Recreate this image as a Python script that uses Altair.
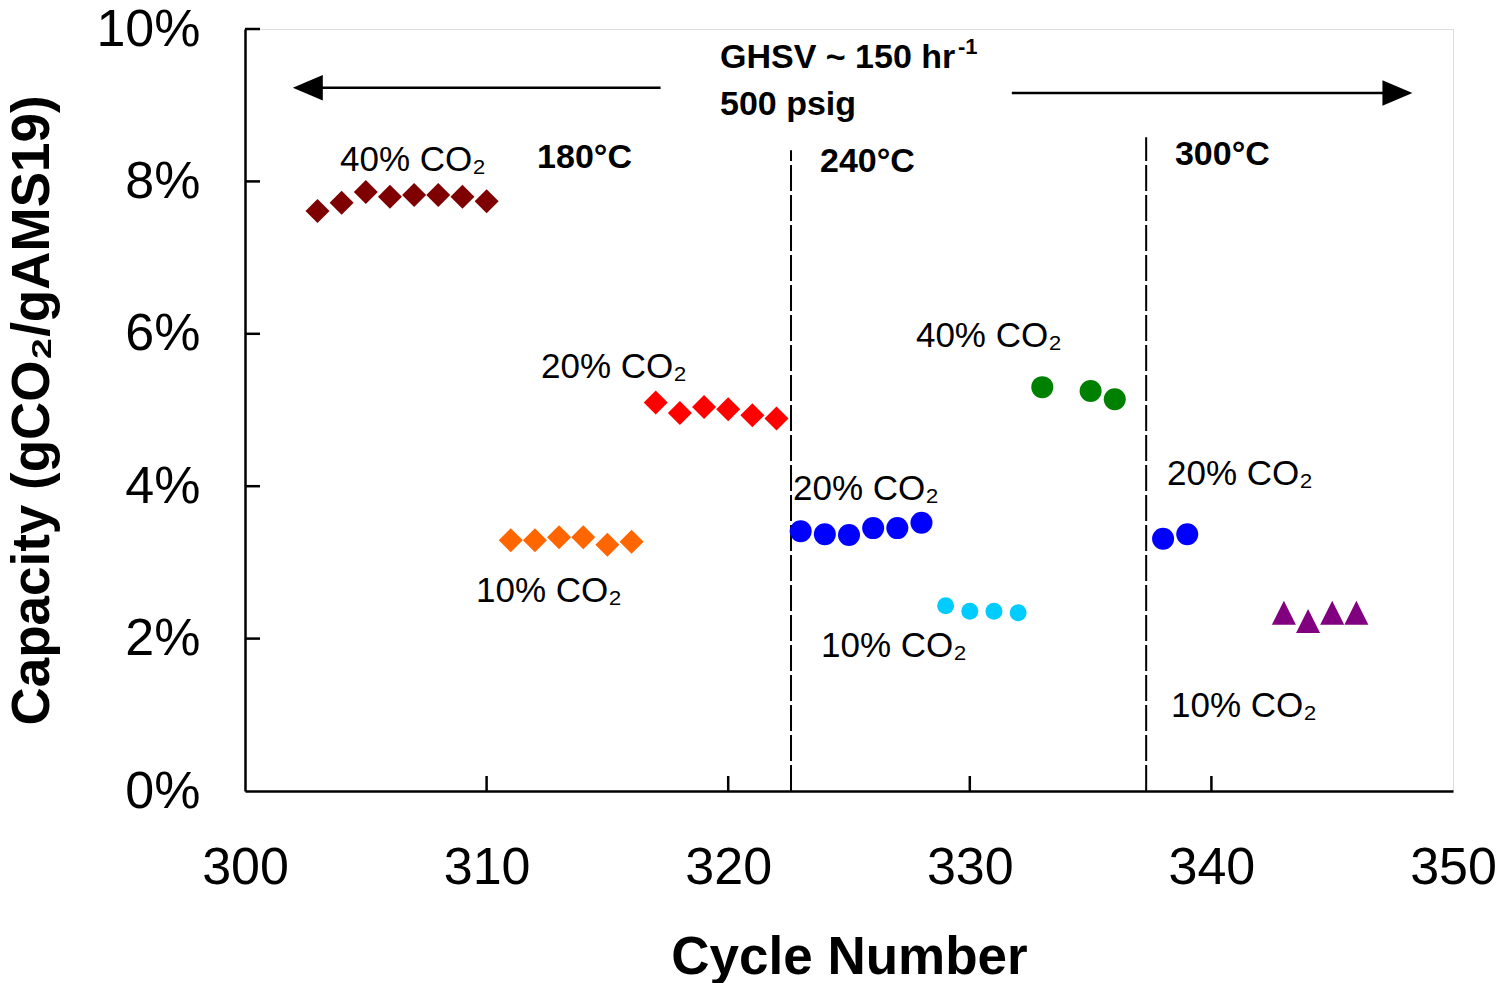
import altair as alt
import pandas as pd

# ---------------- data ----------------
c180_40 = [303, 304, 305, 306, 307, 308, 309, 310]
v180_40 = [7.61, 7.72, 7.86, 7.80, 7.82, 7.82, 7.80, 7.74]
c180_20 = [317, 318, 319, 320, 321, 322]
v180_20 = [5.10, 4.96, 5.04, 5.01, 4.93, 4.89]
c180_10 = [311, 312, 313, 314, 315, 316]
v180_10 = [3.29, 3.29, 3.33, 3.33, 3.23, 3.27]
c240_20 = [323, 324, 325, 326, 327, 328]
v240_20 = [3.41, 3.37, 3.36, 3.45, 3.45, 3.52]
c240_10 = [329, 330, 331, 332]
v240_10 = [2.43, 2.36, 2.36, 2.34]
c240_40 = [333, 335, 336]
v240_40 = [5.30, 5.25, 5.14]
c300_20 = [338, 339]
v300_20 = [3.31, 3.37]
c300_10 = [343, 344, 345, 346]
v300_10 = [2.34, 2.23, 2.34, 2.34]

x_ticks = [300, 310, 320, 330, 340, 350]
y_ticks = [0, 2, 4, 6, 8, 10]

# temperature boundaries (dashed lines)
boundary_x = [322.6, 337.3]
boundary_top = [8.41, 8.58]

# annotations
co2_text = ["40% CO₂", "20% CO₂", "10% CO₂", "20% CO₂", "10% CO₂", "40% CO₂", "20% CO₂", "10% CO₂"]
co2_x = [303.93, 312.25, 309.56, 322.68, 323.84, 327.77, 338.16, 338.33]
co2_y = [8.28, 5.56, 2.62, 3.96, 1.90, 5.97, 4.16, 1.12]

bold_text = ["180°C", "240°C", "300°C", "GHSV ~ 150 hr", "500 psig"]
bold_x = [312.09, 323.80, 338.49, 319.66, 319.66]
bold_y = [8.31, 8.25, 8.35, 9.62, 9.00]
sup_text = ["-1"]
sup_x = [329.51]
sup_y = [9.76]

# arrows
arrow_start = [317.2, 331.74]
arrow_end = [302.6, 347.7]
arrow_y = [9.23, 9.16]

FONT = "Liberation Sans"
xs = alt.Scale(domain=[300, 350], nice=False, zero=False)
ys = alt.Scale(domain=[0, 10], nice=False)

x_axis = alt.Axis(values=x_ticks, title="Cycle Number", ticks=False, grid=False,
                  labelFontSize=52, labelPadding=51, titleFontSize=53,
                  titleFontWeight="bold", titlePadding=38, labelFlush=False,
                  domainColor="black", domainWidth=2.5, labelColor="black",
                  titleColor="black", labelFont=FONT, titleFont=FONT)
y_axis = alt.Axis(values=y_ticks, title="Capacity (gCO₂/gAMS19)", ticks=False,
                  grid=False, labelExpr="datum.value + '%'", labelFontSize=52,
                  labelPadding=45, titleFontSize=53, titleFontWeight="bold",
                  titlePadding=36, labelFlush=False, domainColor="black",
                  domainWidth=2.5, labelColor="black", titleColor="black",
                  labelFont=FONT, titleFont=FONT)

X = lambda f: alt.X(f, type="quantitative", scale=xs, axis=x_axis)
Y = lambda f: alt.Y(f, type="quantitative", scale=ys, axis=y_axis)

layers = []

# inward ticks
xt = alt.Chart(pd.DataFrame({"x": x_ticks[1:-1]})).mark_rule(color="black", strokeWidth=2.5).encode(
    x=X("x"), y=alt.value(762), y2=alt.value(747))
yt = alt.Chart(pd.DataFrame({"y": y_ticks[1:]})).mark_rule(color="black", strokeWidth=2.5).encode(
    y=Y("y"), x=alt.value(0), x2=alt.value(15))

# dashed boundaries
bdf = pd.DataFrame({"x": boundary_x, "top": boundary_top, "bot": [0, 0]})
layers.append(alt.Chart(bdf).mark_rule(color="black", strokeWidth=2, strokeDash=[26, 4]).encode(
    x=X("x"), y=Y("bot"), y2="top"))
layers += [xt, yt]

diamond = "diamond"
circle = "circle"
tri = "M0,-1L1,1L-1,1Z"
series = [
    (c180_40, v180_40, "#7F0000", diamond, 576),
    (c180_20, v180_20, "#FF0000", diamond, 576),
    (c180_10, v180_10, "#FF6600", diamond, 576),
    (c240_20, v240_20, "#0000FF", circle, 484),
    (c240_10, v240_10, "#00CCFF", circle, 289),
    (c240_40, v240_40, "#008000", circle, 484),
    (c300_20, v300_20, "#0000FF", circle, 484),
    (c300_10, v300_10, "#800080", tri, 576),
]
for cx, vy, col, shp, sz in series:
    df = pd.DataFrame({"x": cx, "y": vy})
    layers.append(alt.Chart(df).mark_point(filled=True, color=col, shape=shp, size=sz, opacity=1).encode(
        x=X("x"), y=Y("y")))

# arrows
adf = pd.DataFrame({"x1": arrow_start, "x2": arrow_end, "y": arrow_y})
layers.append(alt.Chart(adf).mark_rule(color="black", strokeWidth=2.5).encode(
    x=X("x1"), x2="x2", y=Y("y")))
heads = [("M-1,0L1,-0.85L1,0.85Z", 0), ("M1,0L-1,-0.85L-1,0.85Z", 1)]
for shp, i in heads:
    hdf = pd.DataFrame({"x": [arrow_end[i]], "y": [arrow_y[i]]})
    layers.append(alt.Chart(hdf).mark_point(filled=True, color="black", shape=shp, size=900, opacity=1).encode(
        x=X("x"), y=Y("y")))

# text
tdf = pd.DataFrame({"t": co2_text, "x": co2_x, "y": co2_y})
layers.append(alt.Chart(tdf).mark_text(align="left", baseline="middle", fontSize=35, font=FONT, color="black").encode(
    x=X("x"), y=Y("y"), text="t:N"))
bdf2 = pd.DataFrame({"t": bold_text, "x": bold_x, "y": bold_y})
layers.append(alt.Chart(bdf2).mark_text(align="left", baseline="middle", fontSize=34, font=FONT,
                                         fontWeight="bold", color="black").encode(
    x=X("x"), y=Y("y"), text="t:N"))
sdf = pd.DataFrame({"t": sup_text, "x": sup_x, "y": sup_y})
layers.append(alt.Chart(sdf).mark_text(align="left", baseline="middle", fontSize=22, font=FONT,
                                        fontWeight="bold", color="black").encode(
    x=X("x"), y=Y("y"), text="t:N"))

chart = alt.layer(*layers).properties(
    width=1208, height=762,
    autosize=alt.AutoSizeParams(type="none"),
    padding={"left": 245, "top": 29, "right": 53, "bottom": 192},
).configure_view(stroke="#888888", strokeWidth=2.5).configure(font=FONT)

chart.save("out.html", embed_options={"renderer": "svg", "actions": False})
